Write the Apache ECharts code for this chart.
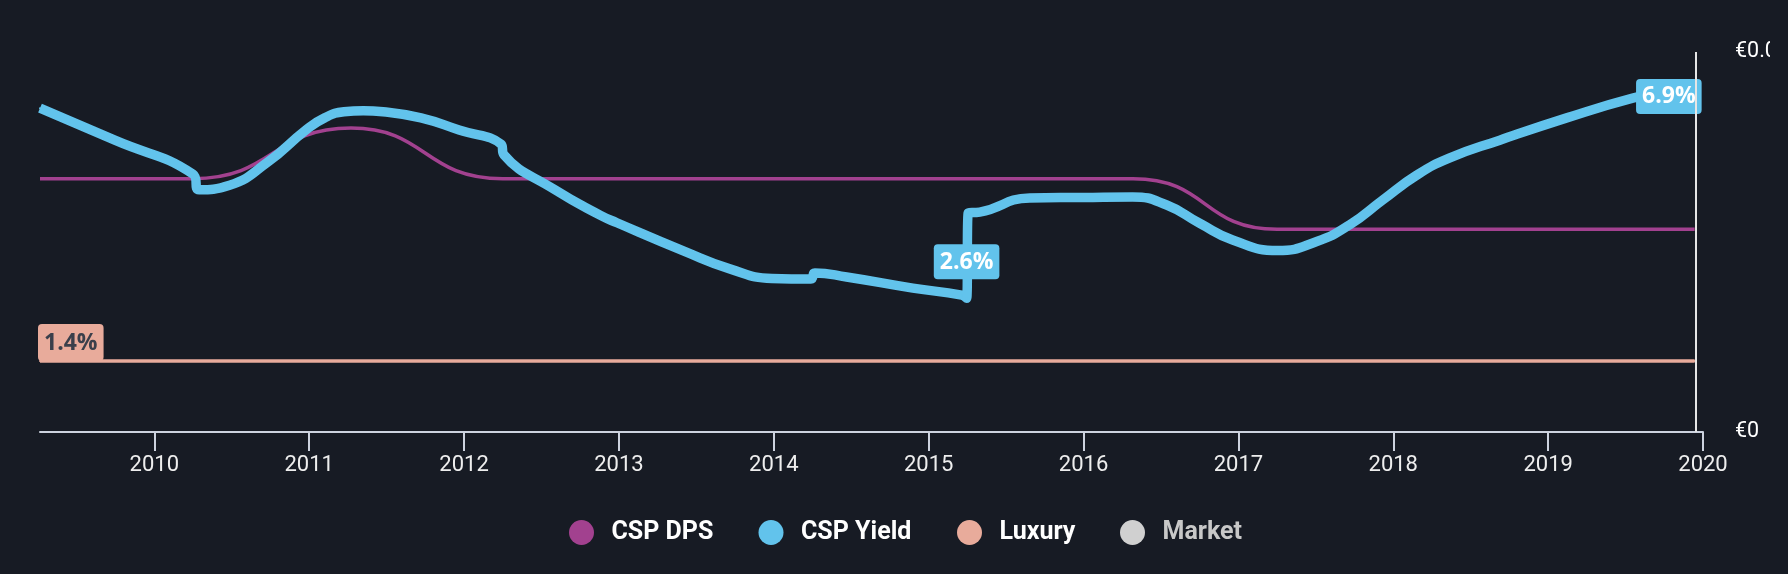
<!DOCTYPE html>
<html>
<head>
<meta charset="utf-8">
<script src="https://cdn.jsdelivr.net/npm/echarts@6/dist/echarts.min.js"></script>
<style>
html,body{margin:0;padding:0;background:#171b24;}
#chart{width:1770px;height:574px;}
</style>
</head>
<body>
<div id="chart"></div>
<script>
// ---- data ----
const xTickYears = [2010, 2011, 2012, 2013, 2014, 2015, 2016, 2017, 2018, 2019, 2020];

const yieldX = [2009.262, 2009.745, 2010.25, 2010.29, 2010.486, 2010.734, 2010.979, 2011.1, 2011.225, 2011.35, 2011.477, 2011.722, 2011.968, 2012.239, 2012.258, 2012.587, 2012.878, 2012.987, 2013.42, 2013.716, 2013.988, 2014.24, 2014.265, 2014.47, 2014.898, 2015.214, 2015.245, 2015.255, 2015.33, 2015.653, 2015.995, 2016.317, 2016.537, 2016.75, 2016.963, 2017.254, 2017.506, 2017.719, 2017.932, 2018.152, 2018.365, 2018.688, 2019.12, 2019.546, 2019.946];
const yieldY = [6.39, 5.76, 5.09, 4.78, 4.87, 5.33, 5.96, 6.20, 6.32, 6.34, 6.32, 6.20, 5.96, 5.68, 5.47, 4.78, 4.28, 4.13, 3.57, 3.22, 3.03, 3.02, 3.14, 3.06, 2.84, 2.70, 2.64, 4.32, 4.34, 4.62, 4.63, 4.64, 4.48, 4.12, 3.79, 3.58, 3.76, 4.09, 4.58, 5.07, 5.41, 5.76, 6.20, 6.59, 6.87];

const dpsX = [2009.262, 2010.25, 2011.27, 2012.25, 2016.32, 2017.25, 2019.946];
const dpsY = [0.040, 0.040, 0.048, 0.040, 0.040, 0.032, 0.032];

const luxuryX = [2009.262, 2019.946];
const luxuryY = [1.4, 1.4];

const legendNames = ['CSP DPS', 'CSP Yield', 'Luxury', 'Market'];

const yieldLabelIdx = [26, 44];
const todayX = 2019.946;

// ---- chart ----
const BLUE = '#62c3ec', PURPLE = '#a2418f', SALMON = '#e8ab9b', GREY = '#d0d0d0';
const pctFmt = p => p.value[1].toFixed(1) + '%';
const labelBase = {
  show: true, fontFamily: 'Open Sans', fontWeight: 'bold', fontSize: 23, lineHeight: 24,
  padding: [6, 6, 5, 6], borderRadius: 4, formatter: pctFmt
};

const yieldData = yieldX.map((x, i) => {
  const item = { value: [x, yieldY[i]] };
  if (i === yieldLabelIdx[0]) {
    item.label = Object.assign({}, labelBase, { position: 'top', distance: 18, color: '#fff', backgroundColor: BLUE });
  } else if (i === yieldLabelIdx[1]) {
    item.label = Object.assign({}, labelBase, { position: 'inside', align: 'right', verticalAlign: 'top', offset: [7, -5], color: '#fff', backgroundColor: BLUE });
  }
  return item;
});
const dpsData = dpsX.map((x, i) => [x, dpsY[i]]);
const luxuryData = luxuryX.map((x, i) => {
  const item = { value: [x, luxuryY[i]] };
  if (i === 0) {
    item.label = Object.assign({}, labelBase, { position: 'inside', align: 'left', verticalAlign: 'bottom', offset: [-2, 0], padding: [7, 6, 6, 6], color: '#3a3f4b', backgroundColor: SALMON });
  }
  return item;
});

const legendLefts = [569, 758.5, 957, 1120];
const legends = legendNames.map((n, i) => ({
  data: [i === 3 ? { name: n, textStyle: { color: '#c8c8c8' } } : { name: n }],
  icon: 'circle', itemWidth: 50, itemHeight: 25, padding: 0,
  left: legendLefts[i], top: 520,
  textStyle: { color: '#ffffff', fontSize: 25, fontWeight: 'bold', fontFamily: 'Roboto' }
}));

const chart = echarts.init(document.getElementById('chart'), null, { renderer: 'canvas' });
chart.setOption({
  animation: false,
  backgroundColor: '#171b24',
  textStyle: { fontFamily: 'Roboto' },
  grid: { left: 40, right: 67, top: 52, bottom: 142, containLabel: false, outerBoundsMode: 'none' },
  legend: legends,
  xAxis: {
    type: 'value', min: 2009.262, max: 2020,
    axisLine: { show: true, lineStyle: { color: '#cdd3df', width: 2 } },
    axisTick: { show: true, length: 19, customValues: xTickYears, lineStyle: { color: '#cdd3df', width: 2 } },
    axisLabel: { customValues: xTickYears, formatter: v => String(v), color: '#eeeeee', fontSize: 22, margin: 22, fontFamily: 'Roboto' },
    splitLine: { show: false }
  },
  yAxis: [
    { type: 'value', min: 0, max: 7.5, show: false },
    {
      type: 'value', position: 'right', min: 0, max: 0.06, interval: 0.06,
      axisLine: { show: false }, axisTick: { show: false }, splitLine: { show: false },
      axisLabel: { formatter: v => v === 0 ? '€0' : '€' + v.toFixed(2), color: '#ffffff', fontSize: 21.5, margin: 32, fontFamily: 'Roboto' }
    }
  ],
  series: [
    {
      name: 'CSP DPS', type: 'line', yAxisIndex: 1, data: dpsData, smooth: true,
      showSymbol: false, symbol: 'none', z: 2,
      lineStyle: { color: PURPLE, width: 3.5 }, itemStyle: { color: PURPLE }
    },
    {
      name: 'CSP Yield', type: 'line', yAxisIndex: 0, data: yieldData, smooth: 0.5,
      symbol: 'circle', symbolSize: 2, showSymbol: true, z: 3,
      lineStyle: { color: BLUE, width: 9.5 }, itemStyle: { color: BLUE },
      markLine: {
        silent: true, symbol: 'none', label: { show: false },
        lineStyle: { color: '#e6e6e6', width: 2, type: 'solid' },
        data: [{ xAxis: todayX }]
      }
    },
    {
      name: 'Luxury', type: 'line', yAxisIndex: 0, data: luxuryData,
      symbol: 'circle', symbolSize: 2, showSymbol: true, z: 2,
      lineStyle: { color: SALMON, width: 3.5 }, itemStyle: { color: SALMON }
    },
    {
      name: 'Market', type: 'line', yAxisIndex: 0, data: [],
      lineStyle: { color: GREY }, itemStyle: { color: GREY }
    }
  ]
});
</script>
</body>
</html>
